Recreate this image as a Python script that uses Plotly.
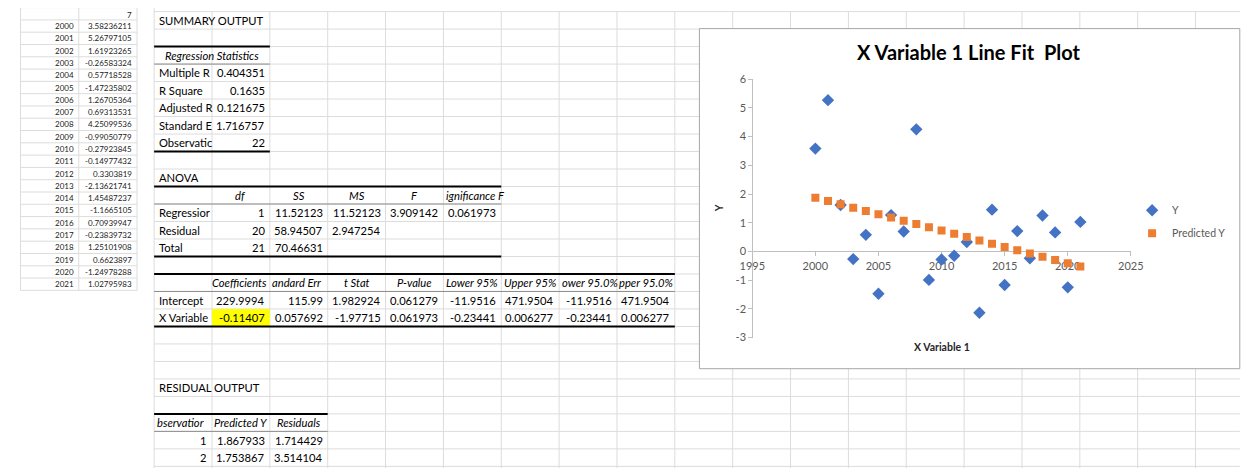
import plotly.graph_objects as go

# ---------------- data ----------------
years = [2000, 2001, 2002, 2003, 2004, 2005, 2006, 2007, 2008, 2009, 2010,
         2011, 2012, 2013, 2014, 2015, 2016, 2017, 2018, 2019, 2020, 2021]
y_values = [3.58236211, 5.26797105, 1.61923265, -0.26583324, 0.57718528,
            -1.47235802, 1.26705364, 0.69313531, 4.25099536, -0.99050779,
            -0.27923845, -0.14977432, 0.3303819, -2.13621741, 1.45487237,
            -1.1665105, 0.70939947, -0.23839732, 1.25101908, 0.6623897,
            -1.24978288, 1.02795983]
predicted_y = [1.867933, 1.753867, 1.639801, 1.525735, 1.411669, 1.297603,
               1.183537, 1.069471, 0.955405, 0.841339, 0.727273, 0.613207,
               0.499141, 0.385075, 0.271009, 0.156943, 0.042877, -0.071189,
               -0.185255, -0.299321, -0.413387, -0.527453]
left_header = "7"

x_tickvals = [1995, 2000, 2005, 2010, 2015, 2020, 2025]
x_ticktext = ["1995", "2000", "2005", "2010", "2015", "2020", "2025"]
y_tickvals = [-3, -2, -1, 0, 1, 2, 3, 4, 5, 6]
y_ticktext = ["-3", "-2", "-1", "0", "1", "2", "3", "4", "5", "6"]

summary_title = "SUMMARY OUTPUT"
reg_stats_header = "Regression Statistics"
reg_stats_labels = ["Multiple R", "R Square", "Adjusted R", "Standard E", "Observatic"]
reg_stats_values = ["0.404351", "0.1635", "0.121675", "1.716757", "22"]

anova_title = "ANOVA"
anova_headers = ["df", "SS", "MS", "F", "ignificance F"]
anova_labels = ["Regressior", "Residual", "Total"]
anova_values = [["1", "11.52123", "11.52123", "3.909142", "0.061973"],
                ["20", "58.94507", "2.947254"],
                ["21", "70.46631"]]

coef_headers = ["Coefficients", "andard Err", "t Stat", "P-value",
                "Lower 95%", "Upper 95%", "ower 95.0%", "pper 95.0%"]
coef_labels = ["Intercept", "X Variable"]
coef_values = [["229.9994", "115.99", "1.982924", "0.061279", "-11.9516", "471.9504", "-11.9516", "471.9504"],
               ["-0.11407", "0.057692", "-1.97715", "0.061973", "-0.23441", "0.006277", "-0.23441", "0.006277"]]

resid_title = "RESIDUAL OUTPUT"
resid_headers = ["bservatior", "Predicted Y", "Residuals"]
resid_rows = [["1", "1.867933", "1.714429"],
              ["2", "1.753867", "3.514104"]]

chart_title = "X Variable 1 Line Fit\u00a0 Plot"
x_title = "X Variable 1"
y_title = "Y"

# ---------------- geometry helpers ----------------
# The page keeps the browser's default 8px body margin, so the figure is sized
# to fill the 1251x476 window exactly with that margin around it.
PAGE_W, PAGE_H = 1251, 476
OFF = 8
FW, FH = PAGE_W - 2 * OFF, PAGE_H - 2 * OFF
FONT = "Lato"
CELL_FONT = 11.2
shapes, annotations = [], []


def X(p):
    """page pixel x -> paper fraction"""
    return (p - OFF) / FW


def Y(p):
    """page pixel y -> paper fraction"""
    return 1 - (p - OFF) / FH


def hline(x0, x1, y, color, width):
    shapes.append(dict(type="line", xref="paper", yref="paper", x0=X(x0), x1=X(x1),
                       y0=Y(y), y1=Y(y), line=dict(color=color, width=width), layer="below"))


def vline(x, y0, y1, color, width):
    shapes.append(dict(type="line", xref="paper", yref="paper", x0=X(x), x1=X(x),
                       y0=Y(y0), y1=Y(y1), line=dict(color=color, width=width), layer="below"))


def ann(x, y, text, anchor="left", size=CELL_FONT, color="#000000"):
    annotations.append(dict(x=X(x), y=Y(y), xref="paper", yref="paper", text=text,
                            showarrow=False, xanchor=anchor, yanchor="middle",
                            font=dict(family=FONT, size=size, color=color)))


GRID = "#DCDCDC"

# ---------- left pane (small sheet) ----------
LX = [7.5, 67.0, 126.5]
LR0, LRH = 0.4, 12.65
nrows_left = len(years) + 1
for i in range(nrows_left + 1):
    hline(LX[0], LX[2], LR0 + LRH * i, GRID, 1)
for x in LX:
    vline(x, LR0, LR0 + LRH * nrows_left, GRID, 1)
ann(LX[2] - 3, LR0 + LRH * 0.5 + 1.5, left_header, "right", 8, "#222222")
for k, (yr, v) in enumerate(zip(years, y_values)):
    yc = LR0 + LRH * (k + 1.5)
    ann(LX[1] - 3, yc, str(yr), "right", 8, "#222222")
    ann(LX[2] - 3, yc, str(v), "right", 8, "#222222")

# ---------- right pane (regression output sheet) ----------
C0, CW = 144.0, 59.1
R0, RH = 4.5, 18.0


def cl(j):
    return C0 + CW * j


def rt(i):
    return R0 + RH * i


def rc(i):
    return R0 + RH * (i + 0.5)


for i in range(28):
    hline(C0, PAGE_W + 2, rt(i), GRID, 1)
for j in range(20):
    vline(cl(j), 0 if j == 0 else R0, PAGE_H, GRID, 1)

# yellow highlighted cell
shapes.append(dict(type="rect", xref="paper", yref="paper", x0=X(cl(1)), x1=X(cl(2)),
                   y0=Y(rt(18)), y1=Y(rt(17)), fillcolor="#FFFF00", line=dict(width=0),
                   layer="below"))

THICK, THIN = ("#000000", 2), ("#8C8C8C", 1)
for (i, ncol, kind) in [(2, 2, THICK), (3, 2, THIN), (8, 2, THICK),
                        (10, 6, THICK), (11, 6, THIN), (14, 6, THICK),
                        (15, 9, THICK), (16, 9, THIN), (18, 9, THICK),
                        (23, 3, THICK), (24, 3, THIN)]:
    hline(cl(0), cl(ncol), rt(i), kind[0], kind[1])


def cell(i, j, text, align, italic=False):
    t = "<i>%s</i>" % text if italic else text
    if align == "l":
        ann(cl(j) + 3, rc(i), t, "left")
    elif align == "r":
        ann(cl(j + 1) - 3, rc(i), t, "right")
    elif align == "c":
        ann(cl(j) + CW / 2, rc(i), t, "center")
    elif align == "L":  # clipped on the left: starts at the cell edge
        ann(cl(j) + 0.5, rc(i), t, "left")
    elif align == "R":  # clipped on the right: ends at the cell edge
        ann(cl(j + 1) - 0.5, rc(i), t, "right")


cell(0, 0, summary_title, "l")
ann(cl(1), rc(2), "<i>%s</i>" % reg_stats_header, "center")
for k, (lab, val) in enumerate(zip(reg_stats_labels, reg_stats_values)):
    cell(3 + k, 0, lab, "l")
    cell(3 + k, 1, val, "r")

cell(9, 0, anova_title, "l")
for k, h in enumerate(anova_headers):
    cell(10, 1 + k, h, "L" if k == 4 else "c", italic=True)
for r, (lab, vals) in enumerate(zip(anova_labels, anova_values)):
    cell(11 + r, 0, lab, "l")
    for k, v in enumerate(vals):
        cell(11 + r, 1 + k, v, "r")

coef_align = ["R", "L", "c", "c", "c", "c", "L", "L"]
for k, h in enumerate(coef_headers):
    cell(15, 1 + k, h, coef_align[k], italic=True)
for r, (lab, vals) in enumerate(zip(coef_labels, coef_values)):
    cell(16 + r, 0, lab, "l")
    for k, v in enumerate(vals):
        cell(16 + r, 1 + k, v, "r")

cell(21, 0, resid_title, "l")
resid_align = ["L", "c", "c"]
for k, h in enumerate(resid_headers):
    cell(23, k, h, resid_align[k], italic=True)
for r, vals in enumerate(resid_rows):
    for k, v in enumerate(vals):
        cell(24 + r, k, v, "r")

# ---------- chart ----------
shapes.append(dict(type="rect", xref="paper", yref="paper", x0=X(701), x1=X(PAGE_W + 2),
                   y0=Y(372), y1=Y(22), fillcolor="#FFFFFF",
                   line=dict(color="#A6A6A6", width=1), layer="below"))

PX0, PX1 = 755.0, 1141.7   # plot area x pixels
PY0, PY1 = 74.0, 340.0     # plot area y pixels (top, bottom)
YMIN, YMAX = -3, 6
ydom = [Y(PY1), Y(PY0)]
x_axis_pos = ydom[0] + (0 - YMIN) / (YMAX - YMIN) * (ydom[1] - ydom[0])

fig = go.Figure()
fig.add_trace(go.Scatter(x=years, y=y_values, mode="markers", name="Y", legendgroup="a",
                         marker=dict(symbol="diamond", size=9.5, color="#4472C4")))
fig.add_trace(go.Scatter(x=years, y=predicted_y, mode="markers", name="Predicted Y",
                         legendgroup="b",
                         marker=dict(symbol="square", size=8, color="#ED7D31")))

ann(976, 46, "<b>%s</b>" % chart_title, "center", 20, "#000000")
ann((PX0 + PX1) / 2, 350, "<b>%s</b>" % x_title, "center", 10.5, "#262626")
annotations.append(dict(x=X(721), y=Y((PY0 + PY1) / 2), xref="paper", yref="paper",
                        text="<b>%s</b>" % y_title, textangle=-90, showarrow=False,
                        xanchor="center", yanchor="middle",
                        font=dict(family=FONT, size=10.5, color="#262626")))

axis_common = dict(showgrid=False, zeroline=False, showline=True, linecolor="#BFBFBF",
                   linewidth=1, ticks="outside", ticklen=4, tickcolor="#BFBFBF",
                   tickfont=dict(family=FONT, size=11, color="#595959"),
                   layer="below traces")

fig.update_layout(
    width=FW, height=FH, autosize=False,
    margin=dict(l=0, r=0, t=0, b=0, pad=0),
    paper_bgcolor="#FFFFFF", plot_bgcolor="rgba(0,0,0,0)",
    font=dict(family=FONT, color="#000000"),
    shapes=shapes, annotations=annotations,
    xaxis=dict(domain=[X(PX0), X(PX1)], range=[1995, 2025], tickmode="array",
               tickvals=x_tickvals, ticktext=x_ticktext,
               anchor="free", position=x_axis_pos, **axis_common),
    yaxis=dict(domain=ydom, range=[YMIN, YMAX], tickmode="array",
               tickvals=y_tickvals, ticktext=y_ticktext,
               anchor="free", position=X(PX0), **axis_common),
    showlegend=True,
    legend=dict(x=X(1143), y=Y(194), xanchor="left", yanchor="top",
                bgcolor="rgba(0,0,0,0)", borderwidth=0, tracegroupgap=4,
                traceorder="grouped",
                font=dict(family=FONT, size=10.5, color="#595959")),
)

fig.write_html("out.html", config={"displayModeBar": False})
